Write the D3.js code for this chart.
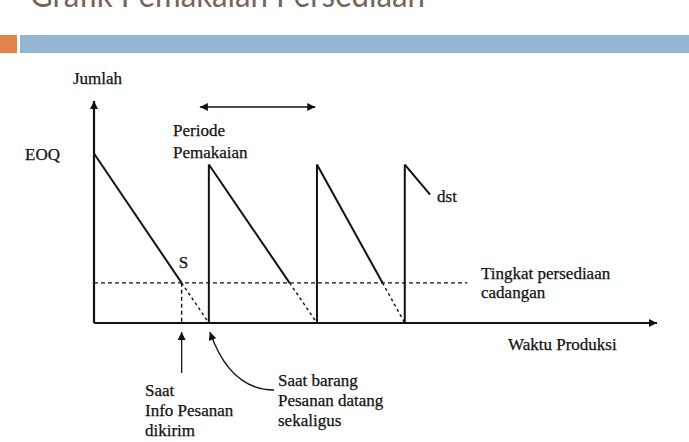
<!DOCTYPE html>
<html>
<head>
<meta charset="utf-8">
<script src="https://cdn.jsdelivr.net/npm/d3@7"></script>
<style>
  body { margin: 0; background: #fff; }
  svg { display: block; }
  .lbl { font-family: "Liberation Serif", "Times New Roman", serif; font-size: 17px; fill: #111; stroke: #111; stroke-width: 0.25px; }
  .title { font-family: Lato, "Open Sans", sans-serif; font-weight: 400; fill: #76655b; }
</style>
</head>
<body>
<script>
// data: waktu (0-100) dan jumlah persediaan (0-131)
var restockTimes = [0, 20.4, 39.6, 55.2];       // saat barang pesanan datang
var peakLevels   = [100, 93.5, 93.5, 93.5];     // jumlah sesudah barang datang (EOQ)
var emptyTimes   = [20.4, 39.6, 55.2];          // saat persediaan habis
var dstPoint     = [59.7, 75.7];                // akhir garis siklus terakhir
var safetyStock  = 23.7;                        // tingkat persediaan cadangan
var safetyEnd    = 66.3;
var periodSpan   = [18.8, 39.3];                // panah periode pemakaian

var width = 689, height = 442;

var svg = d3.select("body").append("svg")
    .attr("width", width)
    .attr("height", height);

// judul slide (terpotong di atas)
svg.append("text")
    .attr("class", "title")
    .attr("x", 30)
    .attr("y", 7)
    .attr("font-size", 34)
    .attr("textLength", 395)
    .attr("lengthAdjust", "spacingAndGlyphs")
    .text("Grafik Pemakaian Persediaan");

svg.append("rect").attr("x", 0).attr("y", 35).attr("width", 17).attr("height", 18).attr("fill", "#e2834b");
svg.append("rect").attr("x", 20).attr("y", 35).attr("width", width - 20).attr("height", 18).attr("fill", "#94b5d2");

var x = d3.scaleLinear().domain([0, 100]).range([94, 657]);
var y = d3.scaleLinear().domain([0, 131]).range([323, 101]);

// panah
var defs = svg.append("defs");
defs.append("marker")
    .attr("id", "head")
    .attr("viewBox", "0 -5 10 10")
    .attr("refX", 10).attr("refY", 0)
    .attr("markerUnits", "userSpaceOnUse")
    .attr("markerWidth", 10).attr("markerHeight", 8)
    .attr("orient", "auto-start-reverse")
    .append("path")
    .attr("d", "M0,-5L10,0L0,5Z")
    .attr("fill", "#111");

var line = d3.line().x(function (d) { return x(d[0]); }).y(function (d) { return y(d[1]); });

// sumbu
svg.append("path")
    .attr("d", line([[0, 0], [0, 131]]))
    .attr("stroke", "#111").attr("stroke-width", 2.2).attr("fill", "none")
    .attr("marker-end", "url(#head)");
svg.append("path")
    .attr("d", line([[0, 0], [100, 0]]))
    .attr("stroke", "#111").attr("stroke-width", 2.2).attr("fill", "none")
    .attr("marker-end", "url(#head)");

// garis persediaan cadangan
svg.append("path")
    .attr("d", line([[0, safetyStock], [safetyEnd, safetyStock]]))
    .attr("stroke", "#111").attr("stroke-width", 1.4).attr("fill", "none")
    .attr("stroke-dasharray", "4,3");

var g = svg.append("g").attr("fill", "none").attr("stroke", "#111");

// tiap siklus: naik tegak, turun sampai tingkat cadangan (garis), lalu putus-putus
restockTimes.forEach(function (t, i) {
    var peak = peakLevels[i];
    if (i > 0) {
        g.append("path").attr("d", line([[t, 0], [t, peak]])).attr("stroke-width", 2);
    }
    if (i < emptyTimes.length) {
        var te = emptyTimes[i];
        var tr = t + (te - t) * (1 - safetyStock / peak);   // titik pemesanan (S)
        g.append("path").attr("d", line([[t, peak], [tr, safetyStock]])).attr("stroke-width", 2);
        g.append("path").attr("d", line([[tr, safetyStock], [te, 0]]))
            .attr("stroke-width", 1.4).attr("stroke-dasharray", "3,3");
        if (i === 0) {
            g.append("path").attr("d", line([[tr, safetyStock], [tr, 0]]))
                .attr("stroke-width", 1.4).attr("stroke-dasharray", "4,3");
        }
    } else {
        g.append("path").attr("d", line([[t, peak], dstPoint])).attr("stroke-width", 2);
    }
});

var reorder0 = restockTimes[0] + (emptyTimes[0] - restockTimes[0]) * (1 - safetyStock / peakLevels[0]);

// panah periode pemakaian
svg.append("path")
    .attr("d", "M" + x(periodSpan[0]) + ",107H" + x(periodSpan[1]))
    .attr("stroke", "#111").attr("stroke-width", 1.3)
    .attr("marker-start", "url(#head)").attr("marker-end", "url(#head)");

// panah bawah sumbu
svg.append("path")
    .attr("d", "M" + x(reorder0) + ",373V" + (y(0) + 9))
    .attr("stroke", "#111").attr("stroke-width", 1.3)
    .attr("marker-end", "url(#head)");
var xa = x(restockTimes[1]);
svg.append("path")
    .attr("d", "M274,390C246,390 224,372 " + (xa + 1) + "," + (y(0) + 9))
    .attr("stroke", "#111").attr("stroke-width", 1.3).attr("fill", "none")
    .attr("marker-end", "url(#head)");

// label
function label(tx, ty, s, size) {
    svg.append("text").attr("class", "lbl").attr("x", tx).attr("y", ty)
        .attr("font-size", size || 17).text(s);
}
label(73, 84, "Jumlah");
label(25, 160, "EOQ");
label(173, 136, "Periode");
label(173, 158, "Pemakaian");
label(x(reorder0) - 3, 268, "S", 18);
label(x(dstPoint[0]) + 7, 202, "dst");
label(481, 279, "Tingkat persediaan");
label(481, 298, "cadangan");
label(508, 350, "Waktu Produksi");
label(145, 396, "Saat");
label(145, 416, "Info Pesanan");
label(145, 436, "dikirim");
label(278, 386, "Saat barang");
label(278, 406, "Pesanan datang");
label(278, 426, "sekaligus");
</script>
</body>
</html>
